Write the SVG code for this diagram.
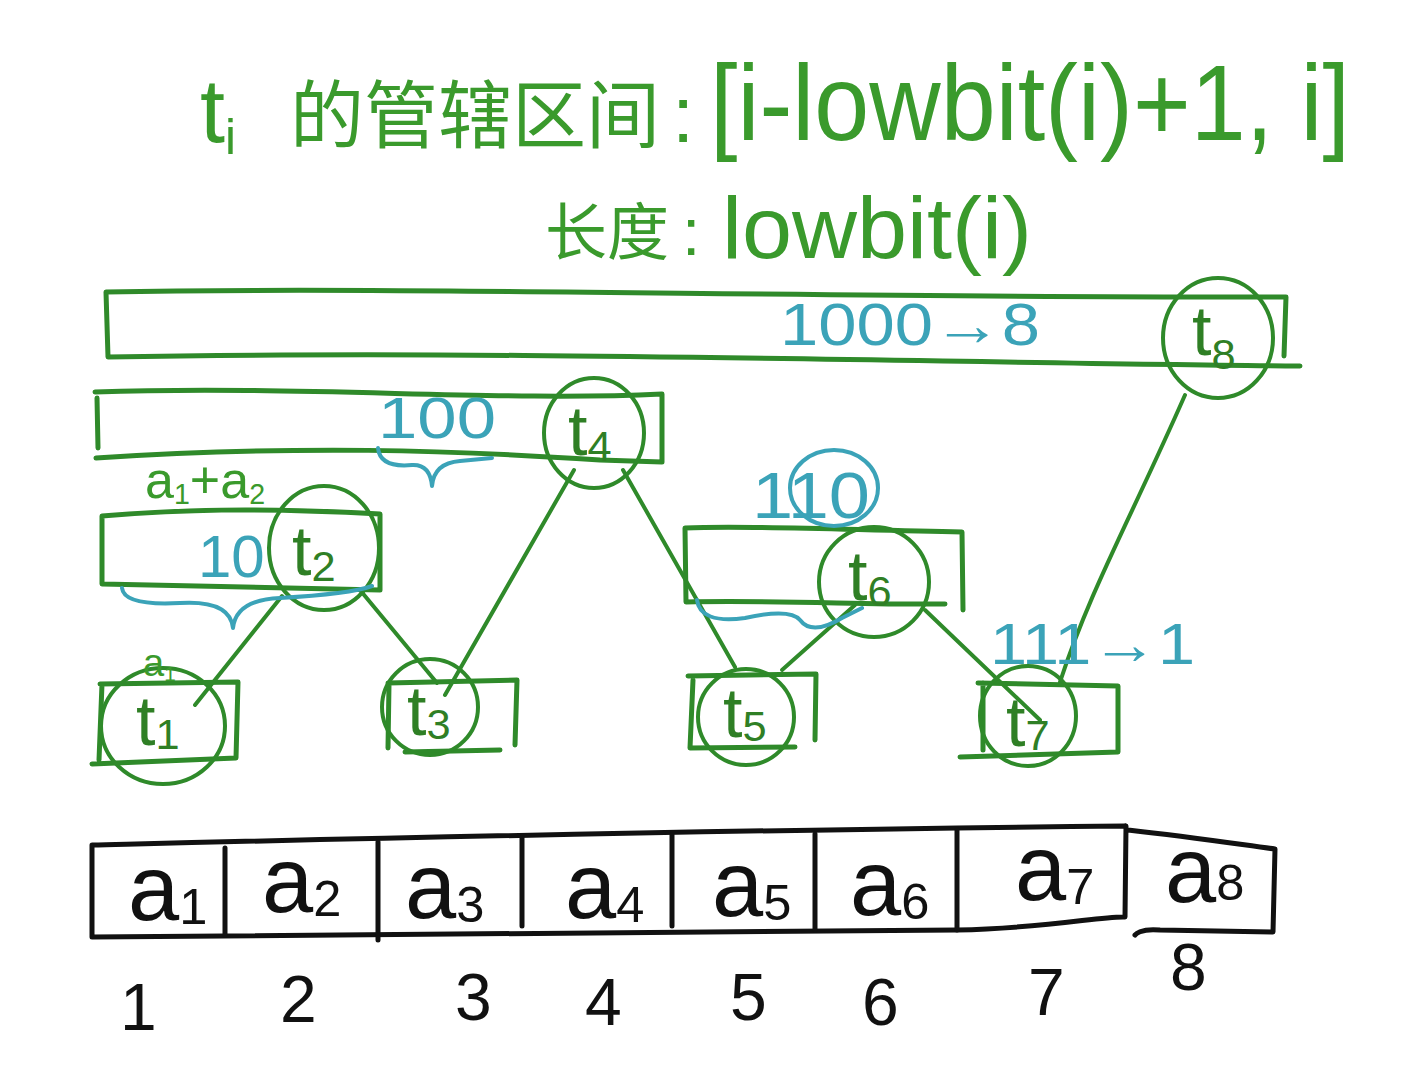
<svg xmlns="http://www.w3.org/2000/svg" width="1420" height="1074" viewBox="0 0 1420 1074">
<style>
.g{fill:none;stroke:#2f8a2a;stroke-width:5;stroke-linecap:round;stroke-linejoin:round}
.gt{fill:none;stroke:#2f8a2a;stroke-width:4;stroke-linecap:round}
.c{fill:none;stroke:#3ba3b8;stroke-width:4;stroke-linecap:round;stroke-linejoin:round}
.k{fill:none;stroke:#111;stroke-width:5;stroke-linecap:round;stroke-linejoin:round}
.tt{font-family:"Liberation Sans","Noto Sans CJK SC",sans-serif;fill:#3a9a2c}
.tl{font-family:"Liberation Sans",sans-serif;font-size:70px;fill:#2f7f25}
.ct{font-family:"Liberation Sans",sans-serif;fill:#3ba3b8}
.ak{font-family:"Liberation Sans",sans-serif;font-size:92px;fill:#111}
.nk{font-family:"Liberation Sans",sans-serif;font-size:66px;fill:#111}
.sub{font-size:0.55em}
.ts{font-size:0.62em}
</style>
<rect width="1420" height="1074" fill="#ffffff"/>

<g id="title">
<text class="tt" x="200" y="142" font-size="90">t<tspan class="sub" dy="12">i</tspan></text>
<text class="tt" x="290" y="142" font-size="74">的管辖区间</text>
<text class="tt" x="672" y="142" font-size="80">:</text>
<text class="tt" x="710" y="140" font-size="108" textLength="640" lengthAdjust="spacingAndGlyphs">[i-lowbit(i)+1, i]</text>
<text class="tt" x="545" y="255" font-size="62">长度</text>
<text class="tt" x="682" y="255" font-size="66">:</text>
<text class="tt" x="722" y="258" font-size="88" textLength="310" lengthAdjust="spacingAndGlyphs">lowbit(i)</text>
</g>

<g id="connectors">
<line class="gt" x1="195" y1="705" x2="282" y2="596"/>
<line class="gt" x1="360" y1="590" x2="437" y2="683"/>
<line class="gt" x1="445" y1="695" x2="574" y2="470"/>
<line class="gt" x1="623" y1="470" x2="735" y2="667"/>
<line class="gt" x1="782" y1="670" x2="855" y2="605"/>
<line class="gt" x1="925" y1="610" x2="1040" y2="720"/>
<path class="gt" d="M1060,682 C1090,590 1130,520 1185,395"/>
</g>

<g id="node-t8">
<path class="g" d="M106,292 C400,286 800,298 1286,297 L1284,356 M106,292 L108,357 C500,350 900,362 1300,366"/>
<ellipse class="gt" cx="1218" cy="338" rx="55" ry="60"/>
<text class="tl" x="1192" y="355">t<tspan class="ts" dy="14">8</tspan></text>
</g>

<g id="node-t4">
<path class="g" d="M95,392 C300,385 500,402 662,394 L662,462 L600,460 C450,450 300,445 96,458 M97,398 L98,448"/>
<ellipse class="gt" cx="594" cy="433" rx="50" ry="55"/>
<text class="tl" x="568" y="455">t<tspan class="ts" dy="6">4</tspan></text>
</g>

<g id="node-t2">
<path class="g" d="M102,516 C180,510 250,507 380,514 L380,590 L102,584 Z"/>
<ellipse class="gt" cx="324" cy="548" rx="55" ry="62"/>
<text class="tl" x="292" y="575">t<tspan class="ts" dy="6">2</tspan></text>
</g>

<g id="node-t6">
<path class="g" d="M685,528 C750,525 850,530 962,532 L963,610 M685,528 L686,602 C780,600 870,605 945,604"/>
<ellipse class="gt" cx="874" cy="582" rx="55" ry="55"/>
<text class="tl" x="848" y="600">t<tspan class="ts" dy="6">6</tspan></text>
</g>

<g id="node-t1">
<path class="g" d="M100,684 L238,682 L236,758 L92,764 M102,684 L99,760"/>
<ellipse class="gt" cx="163" cy="726" rx="62" ry="58"/>
<text class="tl" x="136" y="745">t<tspan class="ts" dy="4">1</tspan></text>
</g>

<g id="node-t3">
<path class="g" d="M388,683 L517,680 L515,745 M389,684 L388,748 M405,752 L500,750"/>
<ellipse class="gt" cx="430" cy="707" rx="48" ry="48"/>
<text class="tl" x="407" y="735">t<tspan class="ts" dy="4">3</tspan></text>
</g>

<g id="node-t5">
<path class="g" d="M688,676 L816,674 L815,740 M693,680 L690,748 L795,747"/>
<ellipse class="gt" cx="746" cy="717" rx="48" ry="48"/>
<text class="tl" x="723" y="737">t<tspan class="ts" dy="4">5</tspan></text>
</g>

<g id="node-t7">
<path class="g" d="M978,683 L1118,686 L1118,752 L960,757 M983,683 L983,750"/>
<ellipse class="gt" cx="1028" cy="716" rx="48" ry="50"/>
<text class="tl" x="1006" y="746">t<tspan class="ts" dy="4">7</tspan></text>
</g>

<g id="annotations">
<text class="ct" x="780" y="345" font-size="60" textLength="260" lengthAdjust="spacingAndGlyphs">1000→8</text>
<text class="ct" x="378" y="438" font-size="58" textLength="118" lengthAdjust="spacingAndGlyphs">100</text>
<path class="c" d="M378,448 Q380,468 412,465 Q430,464 432,486 Q434,463 460,461 L492,458"/>
<text class="tt" x="145" y="498" font-size="52" fill="#2f8a2a">a<tspan class="sub" dy="6">1</tspan><tspan dy="-6">+a</tspan><tspan class="sub" dy="6">2</tspan></text>
<text class="ct" x="198" y="577" font-size="60">10</text>
<path class="c" d="M122,588 Q124,606 180,603 Q230,600 233,628 Q236,600 280,598 Q350,594 372,586"/>
<text class="ct" x="752" y="518" font-size="64" textLength="118" lengthAdjust="spacingAndGlyphs">110</text>
<ellipse class="c" cx="834" cy="488" rx="44" ry="38"/>
<path class="c" d="M697,600 Q700,624 745,618 Q790,608 800,620 Q812,636 842,618 L862,608"/>
<text class="ct" x="990" y="664" font-size="58" textLength="205" lengthAdjust="spacingAndGlyphs">111→1</text>
<text class="tt" x="143" y="676" font-size="38" fill="#2f8a2a">a<tspan class="sub" dy="5">1</tspan></text>
</g>

<g id="array">
<path class="k" d="M92,845 C300,840 700,830 1125,826 M92,845 L92,937 C500,935 900,932 957,930 C1050,928 1100,916 1125,917 L1126,826 M1128,830 C1200,838 1250,846 1275,849 L1273,932 L1160,930 C1140,928 1135,935 1135,935"/>
<path class="k" d="M225,848 L225,935 M378,842 L378,940 M522,838 L522,926 M672,835 L672,926 M815,834 L815,930 M957,830 L957,930"/>
<text class="ak" x="128" y="920">a<tspan class="sub" dy="4">1</tspan></text>
<text class="ak" x="262" y="912">a<tspan class="sub" dy="4">2</tspan></text>
<text class="ak" x="405" y="918">a<tspan class="sub" dy="4">3</tspan></text>
<text class="ak" x="565" y="918">a<tspan class="sub" dy="4">4</tspan></text>
<text class="ak" x="712" y="916">a<tspan class="sub" dy="4">5</tspan></text>
<text class="ak" x="850" y="915">a<tspan class="sub" dy="4">6</tspan></text>
<text class="ak" x="1015" y="900">a<tspan class="sub" dy="4">7</tspan></text>
<text class="ak" x="1165" y="902" font-size="86">a<tspan class="sub" dy="-2">8</tspan></text>
<text class="nk" x="120" y="1030">1</text>
<text class="nk" x="280" y="1022">2</text>
<text class="nk" x="455" y="1020">3</text>
<text class="nk" x="585" y="1025">4</text>
<text class="nk" x="730" y="1020">5</text>
<text class="nk" x="862" y="1025">6</text>
<text class="nk" x="1028" y="1015">7</text>
<text class="nk" x="1170" y="990" font-size="60">8</text>
</g>
</svg>
